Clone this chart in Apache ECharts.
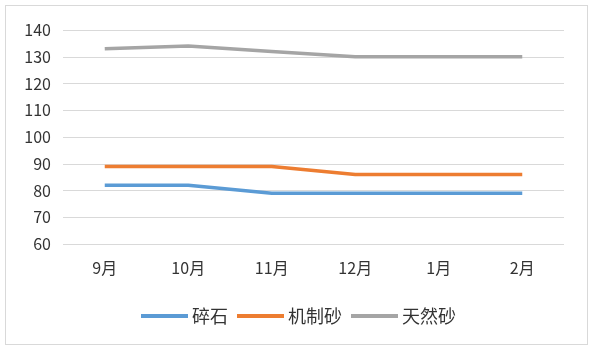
<!DOCTYPE html>
<html><head><meta charset="utf-8">
<script src="https://cdn.jsdelivr.net/npm/echarts@6/dist/echarts.min.js"></script>
<style>html,body{margin:0;padding:0;background:#fff}#c{width:600px;height:351px}
#frame{position:absolute;left:5px;top:5px;width:583px;height:340px;border:1px solid #d9d9d9;box-sizing:border-box;pointer-events:none}</style>
</head><body><div id="c"></div><div id="frame"></div>
<script>
const categories = ['9月','10月','11月','12月','1月','2月'];
const seriesNames = ['碎石','机制砂','天然砂'];
const crushedStone = [82, 82, 79, 79, 79, 79];
const machineSand = [89, 89, 89, 86, 86, 86];
const naturalSand = [133, 134, 132, 130, 130, 130];
const colors = ['#5B9BD5','#ED7D31','#A5A5A5'];
const font = '"Noto Sans CJK SC", sans-serif';
const chart = echarts.init(document.getElementById('c'));
chart.setOption({
  animation:false,
  color:colors,
  grid:{left:63,right:36,top:30,bottom:107},
  legend:{top:302,left:136,icon:'rect',itemWidth:47,itemHeight:4,itemGap:9,
    textStyle:{fontFamily:font,fontSize:18,color:'#333333',padding:[0,0,0,-1]},
    data:seriesNames},
  xAxis:{type:'category',data:categories,boundaryGap:true,
    axisLine:{show:false},axisTick:{show:false},
    axisLabel:{margin:16,fontFamily:font,fontSize:16,color:'#333333'}},
  yAxis:{type:'value',min:60,max:140,interval:10,
    axisLine:{show:false},axisTick:{show:false},
    splitLine:{lineStyle:{color:'#d9d9d9',width:1}},
    axisLabel:{margin:12,fontFamily:font,fontSize:16,color:'#333333'}},
  series:[
    {name:seriesNames[0],type:'line',data:crushedStone,symbol:'none',lineStyle:{width:3.5}},
    {name:seriesNames[1],type:'line',data:machineSand,symbol:'none',lineStyle:{width:3.5}},
    {name:seriesNames[2],type:'line',data:naturalSand,symbol:'none',lineStyle:{width:3.5}}
  ]
});
</script></body></html>
